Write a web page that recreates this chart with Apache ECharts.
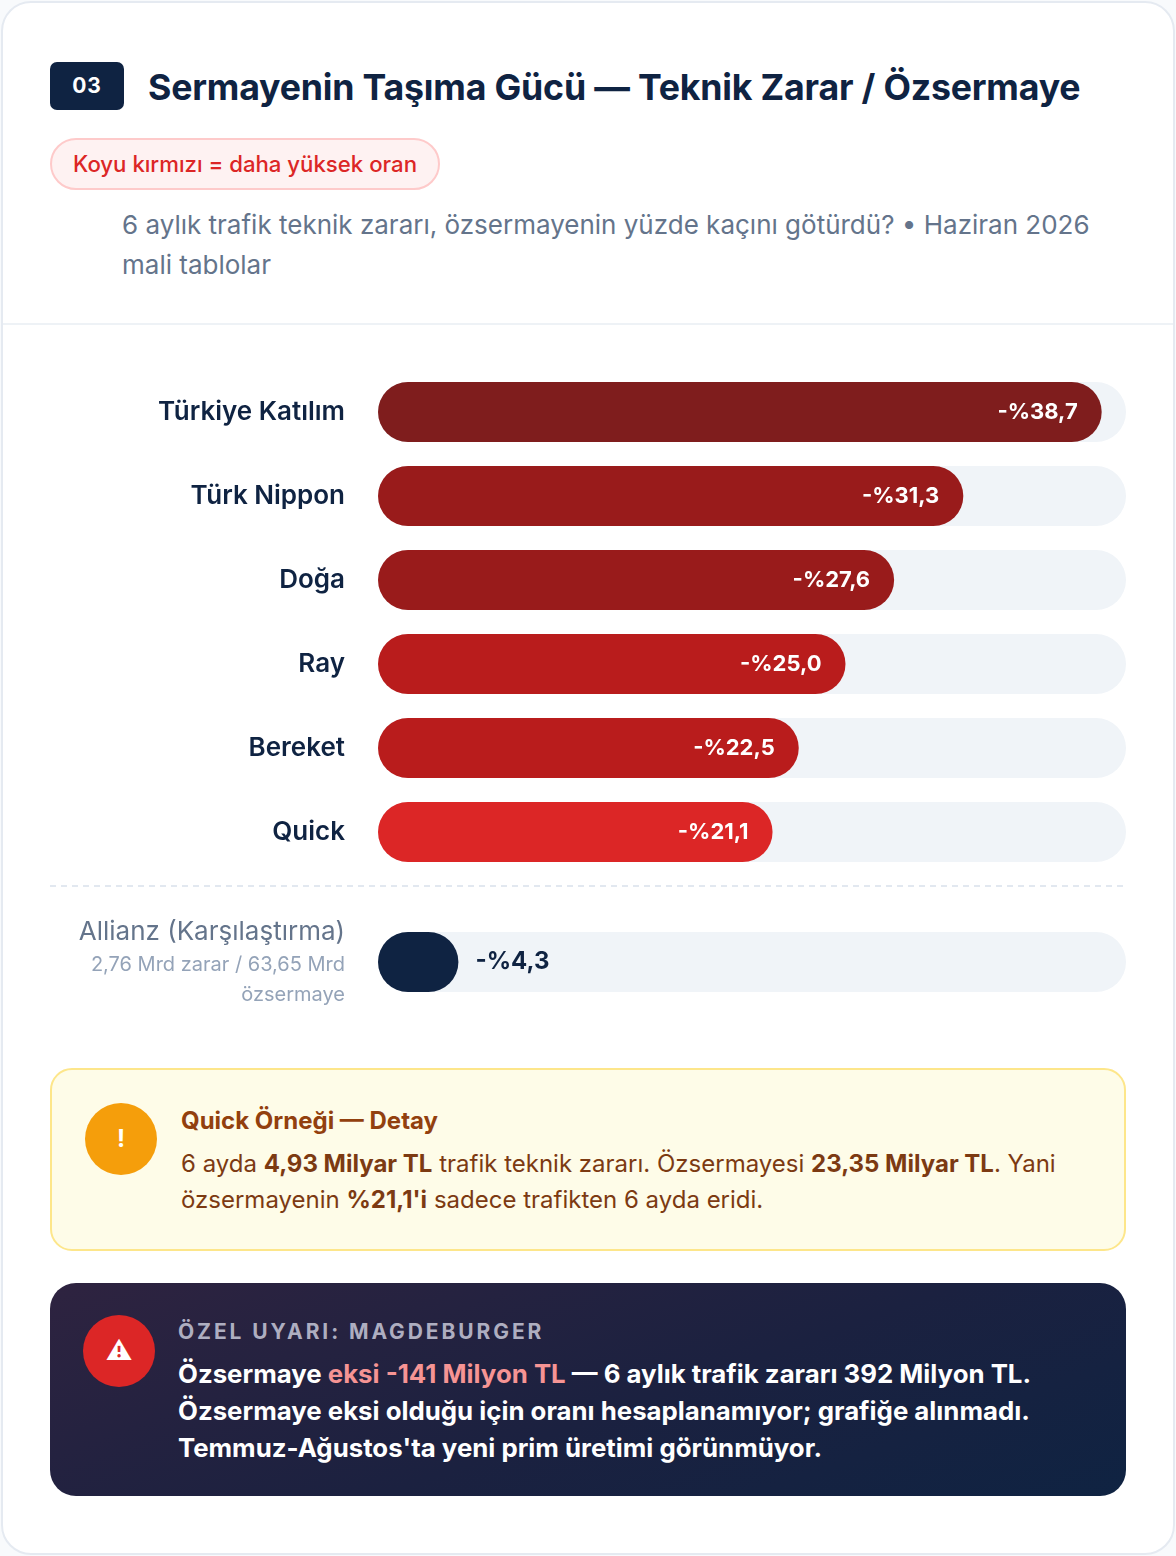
<!DOCTYPE html>
<html>
<head>
<meta charset="utf-8">
<script src="https://cdn.jsdelivr.net/npm/echarts@6/dist/echarts.min.js"></script>
<style>
  html, body { margin: 0; padding: 0; background: #f8fafc; font-family: Inter, "Noto Sans", sans-serif; }
  .card { position: absolute; left: 1px; top: 1px; width: 1170px; height: 1550px; background: #fff;
          border: 2px solid #e5eaf1; border-radius: 30px; overflow: hidden; }
  .abs { position: absolute; }
  .badge { left: 47px; top: 59px; width: 74px; height: 48px; background: #0f2342; border-radius: 7px;
           color: #fff; font-weight: 700; font-size: 21px; line-height: 48px; text-align: center; letter-spacing: 1px; }
  .title { left: 145px; top: 60px; font-size: 35.7px; font-weight: 700; color: #0f2342; line-height: 48px; white-space: nowrap; letter-spacing: -0.2px; }
  .pill { left: 47px; top: 135px; height: 48px; padding: 0 21px; background: #fef2f2; border: 2px solid #fecaca;
          border-radius: 26px; color: #dc2626; font-size: 22.2px; font-weight: 500; line-height: 48px; white-space: nowrap; }
  .sub { left: 119px; top: 202px; width: 1000px; font-size: 26px; line-height: 40px; color: #64748b; }
  .divider { left: 0; top: 320px; width: 1170px; height: 2px; background: #eef2f6; }
  #chart { left: -3px; top: 327px; width: 1176px; height: 700px; }
  .note { left: 47px; top: 1065px; width: 1072px; height: 179px; background: #fefce8; border: 2px solid #fde68a; border-radius: 22px; }
  .icon { width: 72px; height: 72px; border-radius: 50%; color: #fff; font-weight: 700; text-align: center; line-height: 72px; }
  .note .icon { left: 33px; top: 33px; background: #f59e0b; font-size: 24px; }
  .note .h { left: 129px; top: 35px; font-size: 24px; font-weight: 700; color: #92400e; line-height: 32px; }
  .note .t { left: 129px; top: 76px; width: 920px; font-size: 24px; line-height: 36px; color: #7c3a12; }
  .note b { font-weight: 700; }
  .warn { left: 47px; top: 1280px; width: 1076px; height: 213px; border-radius: 26px;
          background: linear-gradient(160deg, #2e2340 0%, #1b2140 55%, #0f2342 100%); }
  .warn .icon { left: 33px; top: 32px; background: #dc2626; font-size: 26px; }
  .warn .h { left: 128px; top: 34px; font-size: 21px; font-weight: 700; color: #aeaec0; letter-spacing: 2.9px; line-height: 30px; }
  .warn .t { left: 128px; top: 72px; width: 940px; font-size: 25.8px; font-weight: 700; line-height: 37px; color: #fff; }
  .warn .hl { color: #f69494; }
</style>
</head>
<body>
<div class="card">
  <div class="abs badge">03</div>
  <div class="abs title">Sermayenin Taşıma Gücü — Teknik Zarar / Özsermaye</div>
  <div class="abs pill">Koyu kırmızı = daha yüksek oran</div>
  <div class="abs sub">6 aylık trafik teknik zararı, özsermayenin yüzde kaçını götürdü? • Haziran 2026 mali tablolar</div>
  <div class="abs divider"></div>
  <div id="chart" class="abs"></div>
  <div class="abs note">
    <div class="abs icon">!</div>
    <div class="abs h">Quick Örneği — Detay</div>
    <div class="abs t">6 ayda <b>4,93 Milyar TL</b> trafik teknik zararı. Özsermayesi <b>23,35 Milyar TL</b>. Yani özsermayenin <b>%21,1'i</b> sadece trafikten 6 ayda eridi.</div>
  </div>
  <div class="abs warn">
    <div class="abs icon">⚠</div>
    <div class="abs h">ÖZEL UYARI: MAGDEBURGER</div>
    <div class="abs t">Özsermaye <span class="hl">eksi -141 Milyon TL</span> — 6 aylık trafik zararı 392 Milyon TL. Özsermaye eksi olduğu için oranı hesaplanamıyor; grafiğe alınmadı. Temmuz-Ağustos'ta yeni prim üretimi görünmüyor.</div>
  </div>
</div>
<script>
// sirket adlari ve teknik zarar / ozsermaye orani (%)
var companies = ['Türkiye Katılım', 'Türk Nippon', 'Doğa', 'Ray', 'Bereket', 'Quick'];
var ratios = [38.7, 31.3, 27.6, 25.0, 22.5, 21.1];
// karsilastirma satiri
var compareName = 'Allianz (Karşılaştırma)';
var compareNoteLines = ['2,76 Mrd zarar / 63,65 Mrd', 'özsermaye'];
var compareRatio = 4.3;
var axisMax = 40;

// koyu kirmizi = daha yuksek oran
var barColors = ['#7f1d1d', '#991b1b', '#991b1b', '#b91c1c', '#b91c1c', '#dc2626'];
var compareColor = '#0f2342';

var fmt = function (v) { return '-%' + v.toFixed(1).replace('.', ','); };

var myChart = echarts.init(document.getElementById('chart'));
var option = {
    animation: false,
    textStyle: { fontFamily: 'Inter' },
    grid: [
        { left: 378, width: 748, top: 40, height: 504 },
        { left: 378, width: 748, top: 590, height: 84 }
    ],
    xAxis: [
        { gridIndex: 0, type: 'value', min: 0, max: axisMax, show: false },
        { gridIndex: 1, type: 'value', min: 0, max: axisMax, show: false }
    ],
    yAxis: [
        {
            gridIndex: 0, type: 'category', data: companies, inverse: true,
            axisLine: { show: false }, axisTick: { show: false },
            axisLabel: { margin: 33, fontSize: 26, fontWeight: 600, color: '#0f2342', fontFamily: 'Inter' }
        },
        {
            gridIndex: 1, type: 'category', data: [compareName],
            axisLine: { show: false }, axisTick: { show: false },
            axisLabel: {
                margin: 33,
                formatter: function (v) {
                    return '{a|' + v + '}\n' + compareNoteLines.map(function (s) { return '{b|' + s + '}'; }).join('\n');
                },
                rich: {
                    a: { fontSize: 26, lineHeight: 36, color: '#64748b', fontFamily: 'Inter', align: 'right' },
                    b: { fontSize: 20, lineHeight: 30, color: '#94a3b8', fontFamily: 'Inter', align: 'right' }
                }
            }
        }
    ],
    series: [
        {
            type: 'bar', xAxisIndex: 0, yAxisIndex: 0, barWidth: 60,
            showBackground: true,
            backgroundStyle: { color: '#f0f4f8', borderRadius: 30 },
            data: ratios.map(function (v, i) {
                return { value: v, itemStyle: { color: barColors[i], borderRadius: 30 } };
            }),
            label: {
                show: true, position: 'insideRight', distance: 24,
                color: '#fff', fontSize: 22, fontWeight: 700, fontFamily: 'Inter',
                formatter: function (p) { return fmt(p.value); }
            }
        },
        {
            type: 'bar', xAxisIndex: 1, yAxisIndex: 1, barWidth: 60,
            showBackground: true,
            backgroundStyle: { color: '#f0f4f8', borderRadius: 30 },
            data: [{ value: compareRatio, itemStyle: { color: compareColor, borderRadius: 30 } }],
            label: {
                show: true, position: 'right', distance: 17,
                color: '#0f2342', fontSize: 24, fontWeight: 700, fontFamily: 'Inter',
                formatter: function (p) { return fmt(p.value); }
            }
        }
    ],
    graphic: [
        {
            type: 'line', silent: true,
            shape: { x1: 50, y1: 556, x2: 1126, y2: 556 },
            style: { stroke: '#e2e8f0', lineWidth: 2, lineDash: [6, 5] }
        }
    ]
};
myChart.setOption(option);
</script>
</body>
</html>
